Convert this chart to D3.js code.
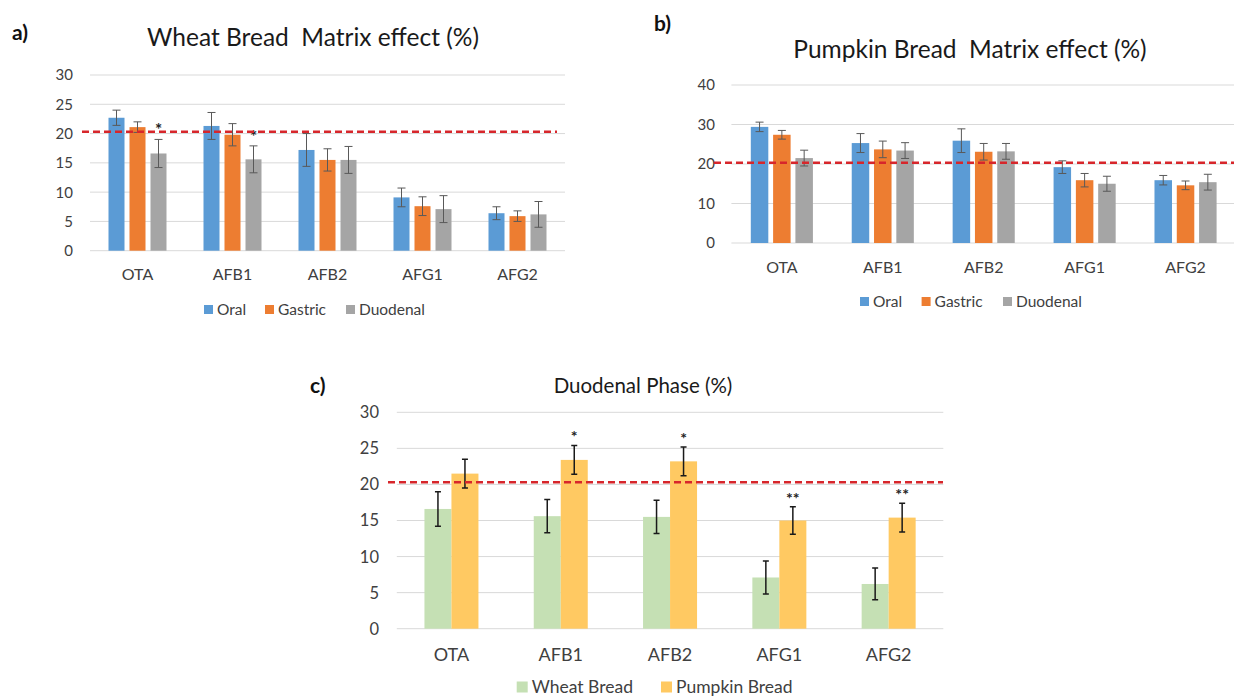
<!DOCTYPE html>
<html lang="en">
<head>
<meta charset="utf-8">
<title>Matrix effect</title>
<script src="https://d3js.org/d3.v7.min.js"></script>
<style>
  body { margin: 0; background: #fff; }
  text { font-family: Lato, "Open Sans", sans-serif; }
</style>
</head>
<body>
<script>
// categories and series
var categories = ["OTA", "AFB1", "AFB2", "AFG1", "AFG2"];
var phases = ["Oral", "Gastric", "Duodenal"];
var breads = ["Wheat Bread", "Pumpkin Bread"];

// wheat bread, matrix effect (%) and sd
var wheatOral = [22.7, 21.3, 17.2, 9.1, 6.4];
var wheatOralErr = [1.3, 2.3, 2.8, 1.6, 1.1];
var wheatGastric = [21.1, 19.8, 15.5, 7.6, 5.9];
var wheatGastricErr = [0.9, 1.9, 1.9, 1.6, 0.9];
var wheatDuodenal = [16.6, 15.6, 15.5, 7.1, 6.2];
var wheatDuodenalErr = [2.4, 2.3, 2.3, 2.3, 2.2];

// pumpkin bread
var pumpkinOral = [29.4, 25.3, 25.9, 19.2, 15.9];
var pumpkinOralErr = [1.2, 2.4, 3.0, 1.6, 1.2];
var pumpkinGastric = [27.4, 23.7, 23.1, 15.9, 14.6];
var pumpkinGastricErr = [1.1, 2.1, 2.1, 1.7, 1.1];
var pumpkinDuodenal = [21.5, 23.4, 23.2, 15.0, 15.4];
var pumpkinDuodenalErr = [2.0, 2.0, 2.0, 1.9, 2.0];

// significance marks
var wheatDuodenalSig = ["*", "*", "", "", ""];
var pumpkinVsWheatSig = ["", "*", "*", "**", "**"];

var refLine = 20.3;
var ticksA = [0, 5, 10, 15, 20, 25, 30];
var ticksB = [0, 10, 20, 30, 40];
var ticksC = [0, 5, 10, 15, 20, 25, 30];

var phaseColors = ["#5b9bd5", "#ed7d31", "#a5a5a5"];
var breadColors = ["#c5e0b4", "#ffc962"];

var svg = d3.select("body").append("svg")
  .attr("width", 1234)
  .attr("height", 698);

// draws one grouped bar panel
function drawPanel(o) {
  var g = svg.append("g");

  var x0 = d3.scaleBand().domain(categories).range([o.left, o.right]);
  var x1 = d3.scaleBand().domain(o.series).range([0, o.groupW]).paddingInner(o.gap);
  var y = d3.scaleLinear().domain([0, o.max]).range([o.bottom, o.top]);

  // gridlines
  g.selectAll(".grid")
    .data(o.ticks)
    .enter().append("line")
    .attr("x1", o.left).attr("x2", o.right)
    .attr("y1", function(d) { return y(d); })
    .attr("y2", function(d) { return y(d); })
    .attr("stroke", "#d9d9d9")
    .attr("stroke-width", 1);

  // y tick labels
  g.selectAll(".ytick")
    .data(o.ticks)
    .enter().append("text")
    .attr("x", o.tickX)
    .attr("y", function(d) { return y(d); })
    .attr("dy", "0.36em")
    .attr("text-anchor", "end")
    .attr("font-size", o.tickSize)
    .attr("fill", "#404040")
    .text(function(d) { return d; });

  // x labels
  g.selectAll(".xlab")
    .data(categories)
    .enter().append("text")
    .attr("x", function(d) { return x0(d) + x0.bandwidth() / 2; })
    .attr("y", o.xLabelY)
    .attr("text-anchor", "middle")
    .attr("font-size", o.xSize)
    .attr("fill", "#404040")
    .text(function(d) { return d; });

  var off = x0.bandwidth() / 2 - o.groupW / 2;

  o.series.forEach(function(s, si) {
    var vals = o.values[si], errs = o.errors[si];
    var sg = g.append("g");

    sg.selectAll("rect")
      .data(categories)
      .enter().append("rect")
      .attr("x", function(d) { return x0(d) + off + x1(s); })
      .attr("y", function(d, i) { return y(vals[i]); })
      .attr("width", x1.bandwidth())
      .attr("height", function(d, i) { return y(0) - y(vals[i]); })
      .attr("fill", o.colors[si]);

    var cx = function(d) { return x0(d) + off + x1(s) + x1.bandwidth() / 2; };

    // error bars
    sg.selectAll(".err")
      .data(categories)
      .enter().append("path")
      .attr("d", function(d, i) {
        var c = cx(d), t = y(vals[i] + errs[i]), b = y(vals[i] - errs[i]), w = o.cap / 2;
        return "M" + c + "," + t + "V" + b +
               "M" + (c - w) + "," + t + "H" + (c + w) +
               "M" + (c - w) + "," + b + "H" + (c + w);
      })
      .attr("fill", "none")
      .attr("stroke", o.errColor)
      .attr("stroke-width", o.errWidth);

    if (o.sig && o.sig[si]) {
      var marks = o.sig[si];
      sg.selectAll(".sig")
        .data(categories)
        .enter().append("text")
        .attr("x", cx)
        .attr("y", function(d, i) { return y(vals[i] + errs[i]) - o.sigGap; })
        .attr("text-anchor", "middle")
        .attr("font-size", o.sigSize)
        .attr("font-weight", "bold")
        .attr("fill", "#222")
        .text(function(d, i) { return marks[i]; });
    }
  });

  // red dashed reference line
  g.append("line")
    .attr("x1", o.refX1).attr("x2", o.refX2)
    .attr("y1", y(refLine)).attr("y2", y(refLine))
    .attr("stroke", "#d7262b")
    .attr("stroke-width", 2.5)
    .attr("stroke-dasharray", "7,4");

  // title
  g.append("text")
    .attr("x", o.titleX).attr("y", o.titleY)
    .attr("text-anchor", "middle")
    .attr("font-size", o.titleSize)
    .attr("fill", "#1a1a1a")
    .style("white-space", "pre")
    .text(o.title);

  // panel letter
  g.append("text")
    .attr("x", o.letterX).attr("y", o.letterY)
    .attr("font-size", 21)
    .attr("font-weight", "bold")
    .attr("fill", "#111")
    .text(o.letter);

  // legend
  var lg = g.selectAll(".leg")
    .data(o.series)
    .enter().append("g")
    .attr("transform", function(d, i) { return "translate(" + o.legX[i] + "," + o.legY + ")"; });
  lg.append("rect")
    .attr("x", 0).attr("y", -o.legBox / 2)
    .attr("width", o.legBox).attr("height", o.legBox)
    .attr("fill", function(d, i) { return o.colors[i]; });
  lg.append("text")
    .attr("x", o.legBox + 4)
    .attr("y", 0)
    .attr("dy", "0.36em")
    .attr("font-size", o.legSize)
    .attr("fill", "#404040")
    .text(function(d) { return d; });
}

drawPanel({
  letter: "a)", letterX: 12, letterY: 40,
  title: "Wheat Bread  Matrix effect (%)", titleX: 313, titleY: 46, titleSize: 24.5,
  left: 90, right: 565, top: 75, bottom: 250.7, max: 30, ticks: ticksA,
  tickX: 73, tickSize: 15, xLabelY: 280, xSize: 16,
  series: phases, colors: phaseColors,
  values: [wheatOral, wheatGastric, wheatDuodenal],
  errors: [wheatOralErr, wheatGastricErr, wheatDuodenalErr],
  sig: [null, null, wheatDuodenalSig], sigGap: 3, sigSize: 17,
  groupW: 58, gap: 5 / 21, cap: 8, errColor: "#595959", errWidth: 1,
  refX1: 82, refX2: 557,
  legX: [204, 265, 346], legY: 309.5, legBox: 9, legSize: 15.5
});

drawPanel({
  letter: "b)", letterX: 654, letterY: 31,
  title: "Pumpkin Bread  Matrix effect (%)", titleX: 970, titleY: 58, titleSize: 24.5,
  left: 731.4, right: 1236, top: 85, bottom: 243, max: 40, ticks: ticksB,
  tickX: 715, tickSize: 15, xLabelY: 273, xSize: 16,
  series: phases, colors: phaseColors,
  values: [pumpkinOral, pumpkinGastric, pumpkinDuodenal],
  errors: [pumpkinOralErr, pumpkinGastricErr, pumpkinDuodenalErr],
  sig: null,
  groupW: 62.1, gap: 4.8 / 22.3, cap: 8, errColor: "#595959", errWidth: 1,
  refX1: 714, refX2: 1234,
  legX: [860, 921.6, 1003], legY: 301.5, legBox: 9, legSize: 15.5
});

drawPanel({
  letter: "c)", letterX: 310, letterY: 393,
  title: "Duodenal Phase (%)", titleX: 643, titleY: 393, titleSize: 20.5,
  left: 396.8, right: 943.3, top: 412.3, bottom: 628.7, max: 30, ticks: ticksC,
  tickX: 379, tickSize: 16.5, xLabelY: 661, xSize: 18,
  series: breads, colors: breadColors,
  values: [wheatDuodenal, pumpkinDuodenal],
  errors: [wheatDuodenalErr, pumpkinDuodenalErr],
  sig: [null, pumpkinVsWheatSig], sigGap: 3, sigSize: 16,
  groupW: 54, gap: 0, cap: 6, errColor: "#1a1a1a", errWidth: 1.5,
  refX1: 388, refX2: 943,
  legX: [516.7, 661], legY: 687, legBox: 11, legSize: 17.5
});
</script>
</body>
</html>
